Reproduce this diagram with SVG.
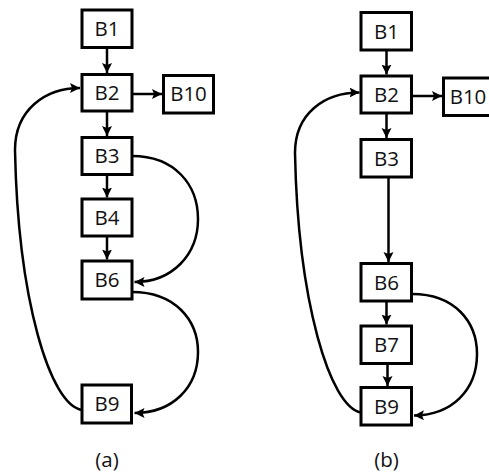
<svg xmlns="http://www.w3.org/2000/svg" width="489" height="476" viewBox="0 0 489 476">
<style>
.box{fill:#fff;stroke:#000;stroke-width:3}
.lbl{font-family:"Open Sans","Noto Sans",sans-serif;font-size:20.5px;fill:#111;text-anchor:middle}
.edge{fill:none;stroke:#000;stroke-width:2.5;marker-end:url(#ah)}
</style>
<defs>
<marker id="ah" markerUnits="userSpaceOnUse" markerWidth="12" markerHeight="12" refX="10" refY="5" orient="auto">
<path d="M0,0 L10,5 L0,10 L2,5 z" fill="#000"/>
</marker>
</defs>
<g id="connectors">
<line class="edge" x1="107" y1="47.5" x2="107" y2="73"/>
<line class="edge" x1="132" y1="94" x2="162" y2="94"/>
<line class="edge" x1="107" y1="111" x2="107" y2="136"/>
<line class="edge" x1="107" y1="174.5" x2="107" y2="197.5"/>
<line class="edge" x1="107" y1="236" x2="107" y2="259.5"/>
<path class="edge" d="M132,156 C175,156 198,185 198,219 C198,255 172,282 134.5,282"/>
<path class="edge" d="M132,292 C175,292 198,320 198,352 C198,388 172,413 134.5,413"/>
<path class="edge" d="M82,410 C50,405 18,300 15,150 C15,110 45,88 80,88"/>
<line class="edge" x1="386.5" y1="50" x2="386.5" y2="74.5"/>
<line class="edge" x1="412" y1="96" x2="442" y2="96"/>
<line class="edge" x1="386.5" y1="113" x2="386.5" y2="138"/>
<line class="edge" x1="388.5" y1="177" x2="388.5" y2="262"/>
<line class="edge" x1="386.5" y1="301" x2="386.5" y2="324.5"/>
<line class="edge" x1="387.5" y1="363.5" x2="387.5" y2="386"/>
<path class="edge" d="M412,294 C455,294 477,322 477,354 C477,390 452,415 414,415.5"/>
<path class="edge" d="M361,412.5 C330,407 298,302 295,153 C295,113 325,92.5 359.5,92.5"/>
</g>
<g id="a-B1"><rect class="box" x="82" y="10" width="50" height="37.5"/><text class="lbl" x="107" y="36">B1</text></g>
<g id="a-B2"><rect class="box" x="82" y="74.5" width="50" height="36.5"/><text class="lbl" x="107" y="100">B2</text></g>
<g id="a-B10"><rect class="box" x="163.5" y="75.5" width="50" height="37.5"/><text class="lbl" x="188.5" y="101">B10</text></g>
<g id="a-B3"><rect class="box" x="82" y="137.5" width="50" height="37"/><text class="lbl" x="107" y="163">B3</text></g>
<g id="a-B4"><rect class="box" x="82" y="199" width="50" height="37"/><text class="lbl" x="107" y="224.5">B4</text></g>
<g id="a-B6"><rect class="box" x="82" y="261" width="50" height="38"/><text class="lbl" x="107" y="287">B6</text></g>
<g id="a-B9"><rect class="box" x="82" y="385" width="49.5" height="38"/><text class="lbl" x="107" y="411">B9</text></g>
<text class="lbl" x="107" y="467">(a)</text>
<g id="b-B1"><rect class="box" x="361" y="12.5" width="50.5" height="37.5"/><text class="lbl" x="386.5" y="38.5">B1</text></g>
<g id="b-B2"><rect class="box" x="361" y="76" width="50.5" height="37"/><text class="lbl" x="386.5" y="102">B2</text></g>
<g id="b-B10"><rect class="box" x="443.5" y="78" width="50" height="37.5"/><text class="lbl" x="468" y="104">B10</text></g>
<g id="b-B3"><rect class="box" x="361" y="139.5" width="50.5" height="37.5"/><text class="lbl" x="386.5" y="165.5">B3</text></g>
<g id="b-B6"><rect class="box" x="361" y="263.5" width="50.5" height="37.5"/><text class="lbl" x="386.5" y="289.5">B6</text></g>
<g id="b-B7"><rect class="box" x="361" y="326" width="50.5" height="37.5"/><text class="lbl" x="386.5" y="352">B7</text></g>
<g id="b-B9"><rect class="box" x="361" y="387.5" width="50.5" height="37.5"/><text class="lbl" x="386.5" y="413.5">B9</text></g>
<text class="lbl" x="386.5" y="467">(b)</text>
</svg>
